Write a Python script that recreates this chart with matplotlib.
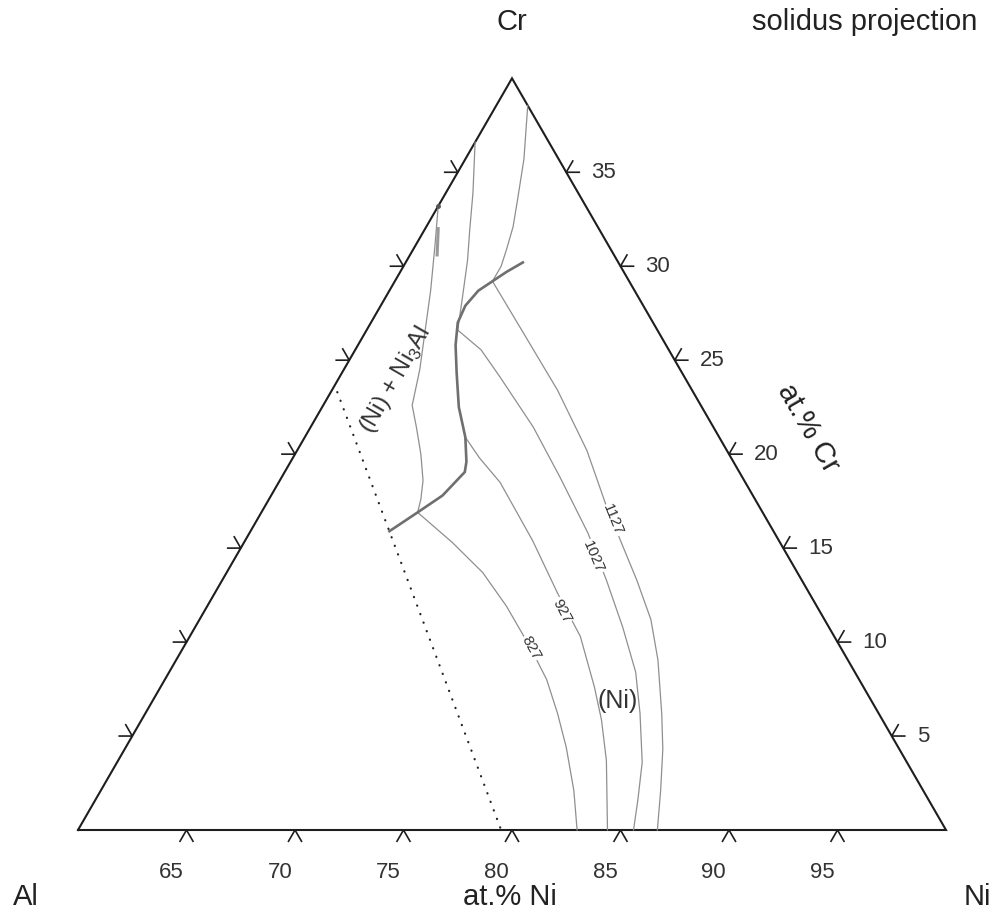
import numpy as np
import matplotlib
matplotlib.use('Agg')
import matplotlib.pyplot as plt

plt.rcParams['font.family'] = ['Liberation Sans', 'DejaVu Sans']
plt.rcParams['mathtext.fontset'] = 'custom'
plt.rcParams['mathtext.rm'] = 'Liberation Sans'

# compositions in at.% (Ni, Cr); Al is the balance
ni_ticks = [65, 70, 75, 80, 85, 90, 95]
cr_ticks = [5, 10, 15, 20, 25, 30, 35]

# thick boundary curve (Ni) / (Ni)+Ni3Al
bound_ni = [66.4, 67.2, 67.9, 68.3, 68.1, 67.4, 66.3, 65.3, 64.5, 64.0, 63.9, 64.1, 64.5, 64.9, 65.4]
bound_cr = [15.9, 16.9, 17.8, 19.05, 19.6, 20.9, 22.5, 24.3, 25.8, 27.0, 27.9, 28.7, 29.2, 29.7, 30.2]

# solidus isotherms, lower part (inside (Ni))
iso_labels = ['827', '927', '1027', '1127']
iso827_ni = [67.2, 69.6, 71.8, 73.8, 76.0, 77.6, 79.0, 80.3, 81.8, 83.0]
iso827_cr = [16.9, 15.3, 13.7, 11.9, 9.7, 8.0, 6.2, 4.4, 2.1, 0.0]
iso927_ni = [67.4, 68.6, 70.2, 73.25, 75.8, 78.0, 80.0, 81.2, 82.5, 84.4]
iso927_cr = [20.9, 19.8, 18.5, 15.4, 12.6, 10.3, 7.6, 5.85, 3.7, 0.0]
iso1027_ni = [64.2, 65.8, 67.4, 70.25, 72.8, 75.6, 77.7, 79.7, 81.5, 82.8, 84.2, 85.0, 85.6]
iso1027_cr = [26.6, 25.55, 24.1, 21.45, 18.8, 15.8, 13.3, 10.8, 8.4, 6.2, 3.6, 1.6, 0.0]
iso1127_ni = [64.5, 67.3, 70.4, 73.35, 75.6, 77.3, 79.1, 80.8, 82.2, 83.8, 84.8, 85.8, 86.7]
iso1127_cr = [29.2, 26.45, 23.4, 20.2, 17.4, 15.4, 13.3, 11.2, 9.05, 6.2, 4.3, 2.1, 0.0]

# upper parts (two-phase field)
up827_ni = [60.0, 60.9, 61.9, 62.7, 63.5, 64.1, 64.9, 65.8, 66.6, 67.0, 67.2]
up827_cr = [33.2, 31.1, 28.7, 26.6, 24.5, 22.6, 21.4, 20.0, 18.6, 17.6, 16.9]
up1027_ni = [60.0, 61.25, 62.1, 62.8, 63.6, 64.2]
up1027_cr = [36.6, 33.9, 31.9, 30.3, 28.2, 26.6]
up1127_ni = [61.45, 62.7, 63.5, 64.0, 64.3, 64.5, 64.5]
up1127_cr = [38.55, 35.7, 33.5, 32.1, 30.9, 30.0, 29.2]

# dotted line
dot_ni = [60.3, 79.5]
dot_cr = [23.3, 0.0]

# label positions along the isotherms
lab_ni = [76.04, 76.47, 76.47, 76.40]
lab_cr = [9.69, 11.66, 14.53, 16.50]
lab_rot = [-61, -62, -67, -68]


def tern(ni, cr):
    ni = np.asarray(ni, float)
    cr = np.asarray(cr, float)
    return ni + cr / 2.0, cr * np.sqrt(3) / 2.0


fig = plt.figure(figsize=(9.99, 9.15), dpi=100)
ax = fig.add_axes([0, 0, 1, 1])
ax.set_xlim(56.406, 102.442)
ax.set_ylim(-3.917, 38.249)
ax.set_aspect('equal')
ax.axis('off')

dark = '#1e1e1e'
thin = '#8f8f8f'

# triangle frame
x, y = tern([60, 100, 60, 60], [0, 0, 40, 0])
ax.plot(x, y, color=dark, lw=1.5, solid_joinstyle='miter')

L = 0.6
for n in ni_ticks:
    x0, y0 = tern(n, 0)
    x1, y1 = tern(n, -L)
    x2, y2 = tern(n + L, -L)
    ax.plot([x1, x0, x2], [y1, y0, y2], color=dark, lw=1.2)
    ax.text(x0 - 0.7, -1.94, str(n), ha='center', va='center', fontsize=16, color='#333333')

for c in cr_ticks:
    # right edge
    x0, y0 = tern(100 - c, c)
    x1, y1 = tern(100 - c + L, c)
    x2, y2 = tern(100 - c, c + L)
    ax.plot([x1, x0, x2], [y1, y0, y2], color=dark, lw=1.2)
    ax.text(x0 + 1.15, y0, str(c), ha='left', va='center', fontsize=16, color='#333333')
    # left edge
    x0, y0 = tern(60, c)
    x1, y1 = tern(60 - L, c)
    x2, y2 = tern(60 - L, c + L)
    ax.plot([x1, x0, x2], [y1, y0, y2], color=dark, lw=1.2)

# isotherms
for a, b in [(iso827_ni, iso827_cr), (iso927_ni, iso927_cr), (iso1027_ni, iso1027_cr),
             (iso1127_ni, iso1127_cr), (up827_ni, up827_cr), (up1027_ni, up1027_cr),
             (up1127_ni, up1127_cr)]:
    x, y = tern(a, b)
    ax.plot(x, y, color=thin, lw=0.9)

x, y = tern([60.6, 61.25], [32.0, 30.6])
ax.plot(x, y, color='#9a9a9a', lw=2.2)
x, y = tern([60.0], [33.2])
ax.plot(x, y, 'o', color='#555555', ms=2.5)

# boundary
x, y = tern(bound_ni, bound_cr)
ax.plot(x, y, color='#6f6f6f', lw=1.9)

# dotted
x, y = tern(dot_ni, dot_cr)
ax.plot(x, y, color='#222222', lw=1.6, linestyle=(0, (0.1, 4.0)), dash_capstyle='round')

for t, n, c, r in zip(iso_labels, lab_ni, lab_cr, lab_rot):
    x, y = tern(n, c)
    ax.text(x, y, t, rotation=r, ha='center', va='center', fontsize=11, color='#333333',
            rotation_mode='anchor', bbox=dict(fc='white', ec='none', pad=0.5))

x, y = tern(81.45, 6.87)
ax.text(x, y, '(Ni)', ha='center', va='center', fontsize=18, color='#333333')
x, y = tern(62.64, 23.95)
ax.text(x, y, '(Ni) + Ni$_{\\mathrm{3}}$Al', ha='center', va='center', rotation=60,
        rotation_mode='anchor', fontsize=17, color='#333333')

fig.text(0.5125, 0.976, 'Cr', ha='center', va='center', fontsize=21, color='#222222')
fig.text(0.866, 0.976, 'solidus projection', ha='center', va='center', fontsize=21, color='#222222')
fig.text(0.026, 0.02, 'Al', ha='center', va='center', fontsize=21, color='#222222')
fig.text(0.978, 0.02, 'Ni', ha='center', va='center', fontsize=21, color='#222222')
fig.text(0.5105, 0.02, 'at.% Ni', ha='center', va='center', fontsize=21, color='#222222')
fig.text(0.809, 0.532, 'at.% Cr', ha='center', va='center', rotation=-60,
         rotation_mode='anchor', fontsize=21, color='#222222')

fig.savefig('out.png', dpi=100)
